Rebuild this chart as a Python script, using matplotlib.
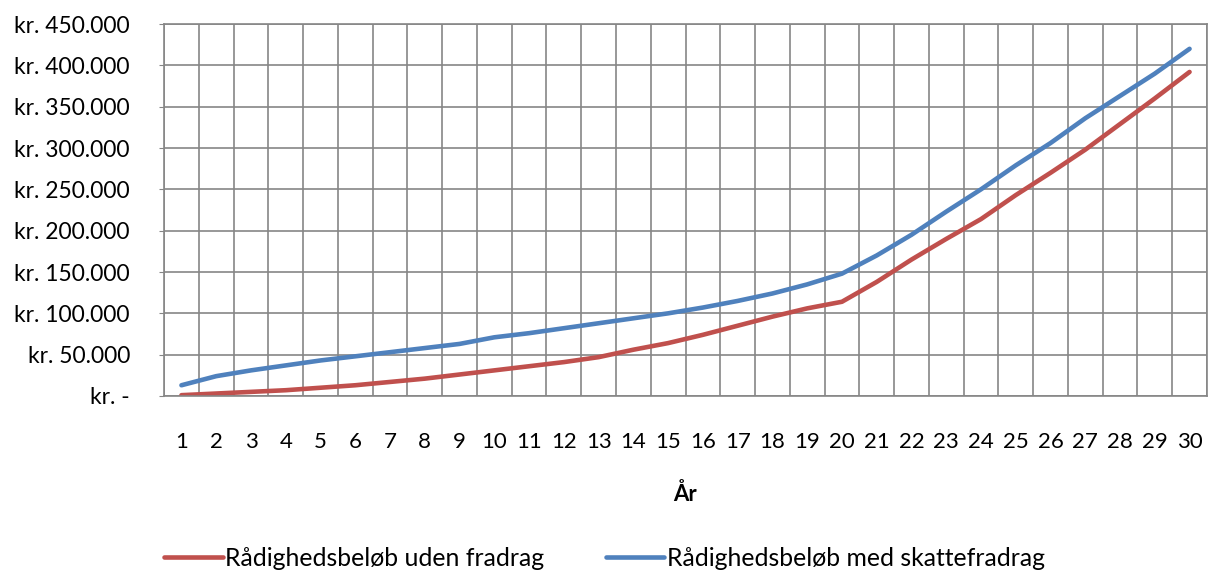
import matplotlib
matplotlib.use("Agg")
import matplotlib.pyplot as plt
from matplotlib.ticker import FuncFormatter, MultipleLocator

plt.rcParams['font.family'] = ['Lato', 'DejaVu Sans']

# data (thousands of kr.)
years = list(range(1, 31))
uden_fradrag = [1, 3, 5, 7, 10, 13, 17, 21, 26, 31,
                36, 41, 47, 56, 64, 74, 85, 96, 106, 114,
                138, 165, 190, 214, 243, 270, 298, 329, 360, 392]
med_skattefradrag = [13, 24, 31, 37, 43, 48, 53, 58, 63, 71,
                     76, 82, 88, 94, 100, 107, 115, 124, 135, 148,
                     170, 195, 223, 250, 279, 306, 336, 363, 390, 420]

red = '#C0504D'
blue = '#4F81BD'
grid_col = '#868686'
fs = 16

fig = plt.figure(figsize=(12.09, 5.76), dpi=100)
ax = fig.add_axes([0.1357, 0.3125, 0.8626, 0.6458])

ax.plot(years, [v * 1000 for v in uden_fradrag], color=red, lw=3.3,
        solid_capstyle='round', label='Rådighedsbeløb uden fradrag')
ax.plot(years, [v * 1000 for v in med_skattefradrag], color=blue, lw=3.3,
        solid_capstyle='round', label='Rådighedsbeløb med skattefradrag')

ax.set_xlim(0.5, 30.5)
ax.set_ylim(0, 450000)
ax.yaxis.set_major_locator(MultipleLocator(50000))
ax.set_xticks(years)
ax.set_xticks([y + 0.5 for y in range(0, 31)], minor=True)

def kr(v, pos):
    if v == 0:
        return 'kr. -'
    return 'kr. ' + '{:,.0f}'.format(v).replace(',', '.')

ax.yaxis.set_major_formatter(FuncFormatter(kr))

ax.grid(True, axis='y', which='major', color=grid_col, lw=1.2)
ax.grid(True, axis='x', which='minor', color=grid_col, lw=1.2)
ax.set_axisbelow(True)
for s in ax.spines.values():
    s.set_color(grid_col)
    s.set_linewidth(1.2)

ax.tick_params(axis='y', which='major', length=3.6, color=grid_col, labelsize=16.5, pad=21)
ax.tick_params(axis='x', which='major', length=0, labelsize=fs, pad=26)
ax.tick_params(axis='x', which='minor', length=0)

ax.set_xlabel('År', fontsize=fs, fontweight='bold', labelpad=22)

fig.legend(loc='center', bbox_to_anchor=(0.5, 0.031), ncol=2, frameon=False,
           fontsize=17.8, handlelength=2.35, handletextpad=0.1, columnspacing=2.5)

fig.savefig('out.png', dpi=100)
